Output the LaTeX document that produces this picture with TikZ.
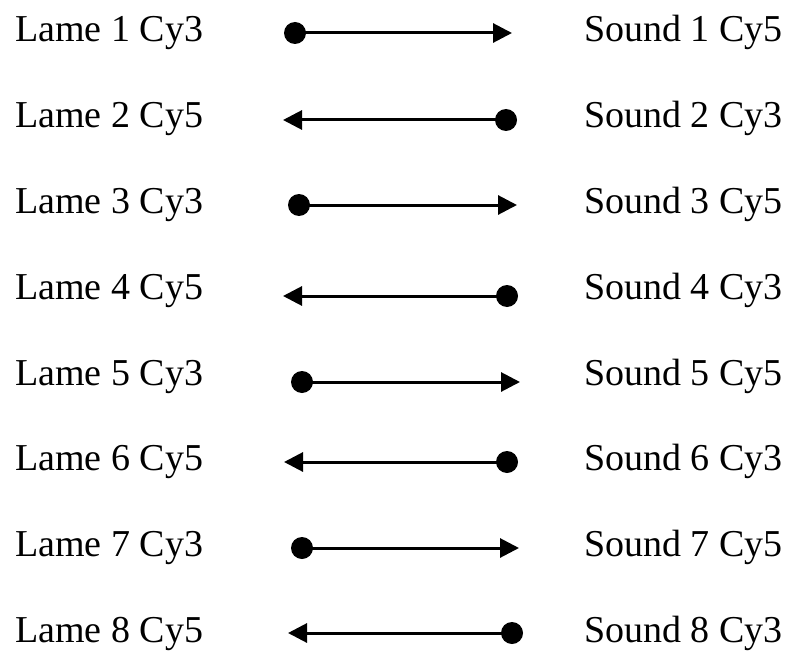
\documentclass[tikz,border=0pt]{standalone}
\usepackage{fontspec}
\setmainfont{Liberation Serif}
\usetikzlibrary{arrows.meta}
\begin{document}
\begin{tikzpicture}[x=1bp,y=-1bp,
  lbl/.style={anchor=base west,inner sep=0pt,font=\fontsize{38bp}{44bp}\selectfont},
  dotnode/.style={circle,fill=black,minimum size=22bp,inner sep=0pt},
  conn/.style={line width=3bp,-{Triangle[length=19bp,width=19bp]}}]
\useasboundingbox (0,0) rectangle (787,656);
% rows: index / baseline / line y / dot x / tip x / left label / right label
\foreach \i/\b/\ly/\dx/\tx/\ltxt/\rtxt in {
  1/42/33/295/512/Cy3/Cy5,
  2/128/120/506/283/Cy5/Cy3,
  3/213/205/299/517/Cy3/Cy5,
  4/299/296/507/283/Cy5/Cy3,
  5/385/382/302/520/Cy3/Cy5,
  6/470/462/507/284/Cy5/Cy3,
  7/556/548/302/519/Cy3/Cy5,
  8/642/633/512/288/Cy5/Cy3}{
  \node[lbl] (L\i) at (15,\b) {Lame \i\ \ltxt};
  \node[lbl] (S\i) at (584,\b) {Sound \i\ \rtxt};
  \node[dotnode] (dot\i) at (\dx,\ly) {};
  \coordinate (tip\i) at (\tx,\ly);
  \draw[conn] (dot\i.center) -- (tip\i);
}
\end{tikzpicture}
\end{document}
